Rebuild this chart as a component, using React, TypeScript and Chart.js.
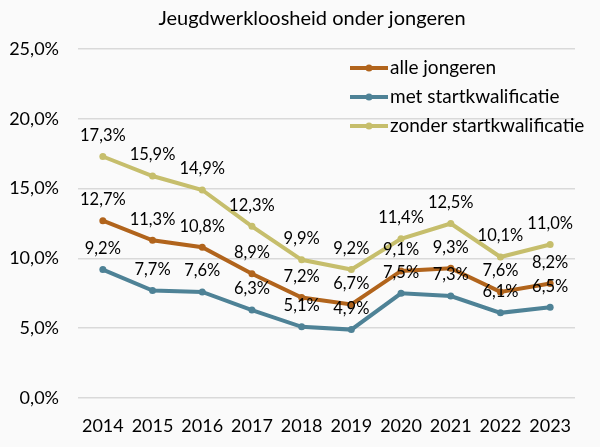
import React, { useEffect, useRef } from "react";
import { Chart, registerables } from "chart.js";

Chart.register(...registerables);

const years = ["2014", "2015", "2016", "2017", "2018", "2019", "2020", "2021", "2022", "2023"];
const alleJongeren = [12.7, 11.3, 10.8, 8.9, 7.2, 6.7, 9.1, 9.3, 7.6, 8.2];
const metStart = [9.2, 7.7, 7.6, 6.3, 5.1, 4.9, 7.5, 7.3, 6.1, 6.5];
const zonderStart = [17.3, 15.9, 14.9, 12.3, 9.9, 9.2, 11.4, 12.5, 10.1, 11.0];
const seriesNames = ["alle jongeren", "met startkwalificatie", "zonder startkwalificatie"];
const titleText = "Jeugdwerkloosheid onder jongeren";

const COLORS = ["#B1641C", "#4E8296", "#C6BE6C"];
const FONT = "Lato, 'Liberation Sans', sans-serif";

const fmt = (v: number) => v.toFixed(1).replace(".", ",") + "%";

const overlayPlugin = {
  id: "overlay",
  afterDatasetsDraw(chart: any) {
    const ctx = chart.ctx;
    ctx.save();
    // data labels
    ctx.font = `16.5px ${FONT}`;
    ctx.fillStyle = "#000";
    ctx.textAlign = "center";
    ctx.textBaseline = "middle";
    chart.data.datasets.forEach((ds: any, i: number) => {
      const meta = chart.getDatasetMeta(i);
      meta.data.forEach((pt: any, j: number) => {
        ctx.fillText(fmt(ds.data[j]), pt.x, pt.y - 21);
      });
    });
    // title
    ctx.font = `20px ${FONT}`;
    ctx.fillText(titleText, 312, 19);
    // legend
    ctx.font = `19px ${FONT}`;
    ctx.textAlign = "left";
    const lx = 350;
    const ys = [68, 97, 126];
    chart.data.datasets.forEach((ds: any, i: number) => {
      const y = ys[i];
      ctx.strokeStyle = ds.borderColor;
      ctx.lineWidth = 4;
      ctx.beginPath();
      ctx.moveTo(lx, y);
      ctx.lineTo(lx + 38, y);
      ctx.stroke();
      ctx.fillStyle = ds.borderColor;
      ctx.beginPath();
      ctx.arc(lx + 19, y, 3.5, 0, Math.PI * 2);
      ctx.fill();
      ctx.fillStyle = "#000";
      ctx.fillText(ds.label, lx + 40, y);
    });
    ctx.restore();
  },
};

const bgPlugin = {
  id: "bg",
  beforeDraw(chart: any) {
    const ctx = chart.ctx;
    ctx.save();
    ctx.fillStyle = "#FAFAFA";
    ctx.fillRect(0, 0, chart.width, chart.height);
    ctx.restore();
  },
};

export default function App() {
  const ref = useRef<HTMLCanvasElement | null>(null);
  useEffect(() => {
    document.body.style.margin = "0";
    const mk = (label: string, data: number[], color: string) => ({
      label,
      data,
      borderColor: color,
      backgroundColor: color,
      borderWidth: 4,
      pointRadius: 3.5,
      pointHoverRadius: 3.5,
      pointBackgroundColor: color,
      pointBorderWidth: 0,
      tension: 0,
    });
    const chart = new Chart(ref.current as HTMLCanvasElement, {
      type: "line",
      data: {
        labels: years,
        datasets: [
          mk(seriesNames[0], alleJongeren, COLORS[0]),
          mk(seriesNames[1], metStart, COLORS[1]),
          mk(seriesNames[2], zonderStart, COLORS[2]),
        ],
      },
      options: {
        animation: false,
        responsive: false,
        layout: { padding: { top: 49, right: 25, left: 0, bottom: 0 } },
        plugins: { legend: { display: false }, tooltip: { enabled: false }, title: { display: false } },
        scales: {
          x: {
            offset: true,
            grid: { display: false, drawTicks: false },
            border: { display: false },
            ticks: { color: "#000", font: { family: FONT, size: 18 }, padding: 17, maxRotation: 0 },
            afterFit: (s: any) => {
              s.height = 49;
            },
          },
          y: {
            min: 0,
            max: 25,
            ticks: {
              stepSize: 5,
              color: "#000",
              font: { family: FONT, size: 18 },
              padding: 19,
              callback: (v: any) => fmt(Number(v)),
            },
            grid: { color: "#D9D9D9", lineWidth: 1.5, drawTicks: false },
            border: { display: false },
            afterFit: (s: any) => {
              s.width = 78;
            },
          },
        },
      },
      plugins: [bgPlugin, overlayPlugin],
    });
    return () => chart.destroy();
  }, []);
  return <canvas ref={ref} width={600} height={447} style={{ display: "block" }} />;
}
